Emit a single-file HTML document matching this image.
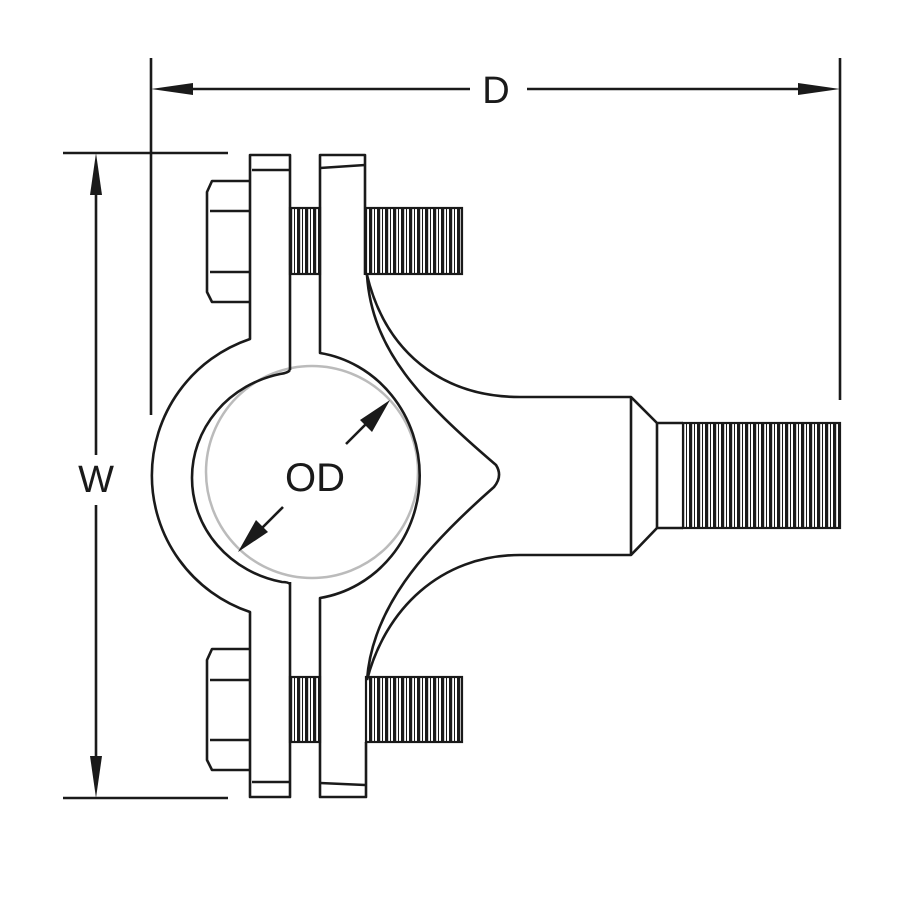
<!DOCTYPE html>
<html><head><meta charset="utf-8"><style>html,body{margin:0;padding:0;background:#fff}svg{display:block}</style></head>
<body>
<svg width="900" height="900" viewBox="0 0 900 900" xmlns="http://www.w3.org/2000/svg">
<defs>
<pattern id="thr" width="8" height="10" patternUnits="userSpaceOnUse">
<rect width="8" height="10" fill="#fff"/>
<rect x="1" y="0" width="3.2" height="10" fill="#1a1a1a"/>
<rect x="6" y="0" width="1" height="10" fill="#1a1a1a"/>
</pattern>
</defs>
<g fill="none" stroke="#1a1a1a" stroke-width="2.6" stroke-linejoin="round">
<line x1="151" y1="58" x2="151" y2="415"/>
<line x1="840" y1="58" x2="840" y2="400"/>
<line x1="190" y1="89" x2="470" y2="89"/>
<line x1="527" y1="89" x2="800" y2="89"/>
<line x1="63" y1="153" x2="228" y2="153"/>
<line x1="63" y1="798" x2="228" y2="798"/>
<line x1="96" y1="190" x2="96" y2="455"/>
<line x1="96" y1="505" x2="96" y2="760"/>
</g>
<g fill="#1a1a1a">
<polygon points="151,89 193,83 193,95"/>
<polygon points="840,89 798,83 798,95"/>
<polygon points="96,153 90,195 102,195"/>
<polygon points="96,798 90,756 102,756"/>
</g>
<circle cx="312" cy="472" r="106" fill="none" stroke="#bbb" stroke-width="2.5"/>
<g stroke="#1a1a1a" stroke-width="2.2">
<rect x="290" y="208" width="30" height="66" fill="url(#thr)"/>
<rect x="366" y="208" width="96" height="66" fill="url(#thr)"/>
<rect x="290" y="677" width="30" height="65" fill="url(#thr)"/>
<rect x="366" y="677" width="96" height="65" fill="url(#thr)"/>
<rect x="683" y="423" width="157" height="105" fill="url(#thr)"/>
</g>
<g fill="none" stroke="#1a1a1a" stroke-width="2.6" stroke-linejoin="round">
<path d="M250,181 L212,181 L207,192 L207,292 L212,302 L250,302"/>
<line x1="210" y1="211" x2="250" y2="211"/>
<line x1="210" y1="272" x2="250" y2="272"/>
<path d="M250,649 L212,649 L207,660 L207,760 L212,770 L250,770"/>
<line x1="210" y1="680" x2="250" y2="680"/>
<line x1="210" y1="740" x2="250" y2="740"/>
<path d="M290,370 L290,155 L250,155 L250,339 A144,144 0 0 0 250,612 L250,797 L290,797 L290,582"/>
<path d="M290,370 Q288,373 280,374 A112,106 0 0 0 192,478 A112,106 0 0 0 282,582 Q288,582 290,584"/>
<line x1="252" y1="170" x2="290" y2="170"/>
<line x1="252" y1="782" x2="290" y2="782"/>
<path d="M365,275 L365,155 L320,155 L320,353 A118,124 0 0 1 320,598 L320,797 L366,797 L366,742"/>
<line x1="320" y1="168" x2="365" y2="165"/>
<line x1="320" y1="783" x2="365" y2="785"/>
<path d="M367,275 C372,350 420,400 496,465 Q503,476 494,487 C420,552 372,610 367,680"/>
<path d="M367,275 C385,350 440,397 520,397 L631,397 L657,423 L683,423"/>
<path d="M367,680 C385,610 440,555 520,555 L631,555 L657,528 L683,528"/>
<line x1="631" y1="397" x2="631" y2="555"/>
<line x1="657" y1="423" x2="657" y2="528"/>
<line x1="346" y1="444" x2="372" y2="418"/>
<line x1="283" y1="507" x2="256" y2="534"/>
</g>
<g fill="#1a1a1a">
<polygon points="390,400 360,420 372,432"/>
<polygon points="238,552 268,532 256,520"/>
</g>
<g font-family="Liberation Sans, sans-serif" fill="#1a1a1a" text-anchor="middle">
<text x="315" y="491" font-size="40">OD</text>
<text x="496" y="103" font-size="38">D</text>
<text x="96" y="492" font-size="38">W</text>
</g>
</svg>
</body></html>
